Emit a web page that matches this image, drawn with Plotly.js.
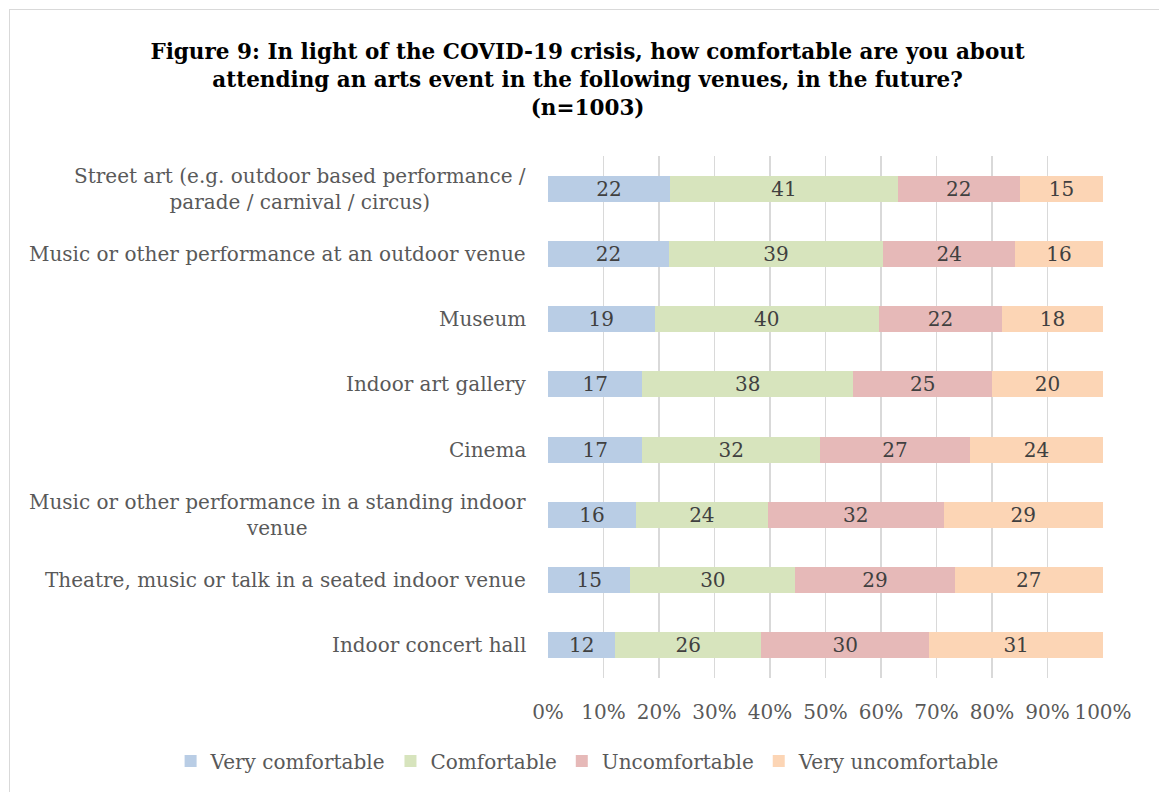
<!DOCTYPE html>
<html>
<head>
<meta charset="utf-8">
<script src="https://cdn.plot.ly/plotly-3.0.1.min.js"></script>
<style>
html,body{margin:0;padding:0;background:#fff;}
#chart{width:1159px;height:792px;}
</style>
</head>
<body>
<div id="chart"></div>
<script>
const categories = [
  "Street art (e.g. outdoor based performance /<br>parade / carnival / circus)",
  "Music or other performance at an outdoor venue",
  "Museum",
  "Indoor art gallery",
  "Cinema",
  "Music or other performance in a standing indoor<br>venue",
  "Theatre, music or talk in a seated indoor venue",
  "Indoor concert hall"
];
const veryComfortable   = [22, 22, 19, 17, 17, 16, 15, 12];
const comfortable       = [41, 39, 40, 38, 32, 24, 30, 26];
const uncomfortable     = [22, 24, 22, 25, 27, 32, 29, 30];
const veryUncomfortable = [15, 16, 18, 20, 24, 29, 27, 31];
const seriesNames = ["Very comfortable", "Comfortable", "Uncomfortable", "Very uncomfortable"];
const seriesColors = ["#b9cde5", "#d7e4bd", "#e6b9b8", "#fcd5b5"];
const tickVals = [0, 10, 20, 30, 40, 50, 60, 70, 80, 90, 100];
const tickText = ["0%", "10%", "20%", "30%", "40%", "50%", "60%", "70%", "80%", "90%", "100%"];

const FONT = "DejaVu Serif, Liberation Serif, serif";
const allSeries = [veryComfortable, comfortable, uncomfortable, veryUncomfortable];

const traces = allSeries.map((vals, i) => ({
  type: "bar",
  orientation: "h",
  name: seriesNames[i],
  y: categories,
  x: vals,
  text: vals.map(String),
  textposition: "inside",
  insidetextanchor: "middle",
  constraintext: "none",
  textfont: {family: FONT, size: 20, color: "#404040"},
  marker: {color: seriesColors[i], line: {width: 0}},
  width: 0.4,
  hoverinfo: "skip"
}));

const annotations = categories.map(c => ({
  xref: "paper", yref: "y",
  x: 0, y: c,
  xanchor: "right", yanchor: "middle",
  xshift: -20,
  text: c,
  showarrow: false,
  align: "center",
  font: {family: FONT, size: 20, color: "#595959"}
}));

const layout = {
  width: 1159, height: 792,
  paper_bgcolor: "#ffffff",
  plot_bgcolor: "#ffffff",
  barmode: "stack",
  barnorm: "percent",
  margin: {l: 548, r: 56, t: 156, b: 114, pad: 0, autoexpand: false},
  title: {
    text: "<b>Figure 9: In light of the COVID-19 crisis, how comfortable are you about<br>attending an arts event in the following venues, in the future?<br>(n=1003)</b>",
    font: {family: FONT, size: 21.5, color: "#000000"},
    x: 0.507, xanchor: "center", xref: "container",
    y: 0.926, yanchor: "top", yref: "container"
  },
  xaxis: {
    range: [0, 100],
    tickvals: tickVals,
    ticktext: tickText,
    showgrid: true,
    gridcolor: "#d9d9d9",
    gridwidth: 1.5,
    zeroline: false,
    showline: false,
    ticks: "",
    ticklabelstandoff: 20,
    tickfont: {family: FONT, size: 20, color: "#595959"},
    fixedrange: true
  },
  yaxis: {
    autorange: "reversed",
    showticklabels: false,
    showgrid: false,
    zeroline: false,
    showline: false,
    ticks: "",
    fixedrange: true
  },
  legend: {
    orientation: "h",
    xref: "paper", yref: "paper",
    x: -0.68, xanchor: "left",
    y: -0.159, yanchor: "middle",
    bgcolor: "rgba(0,0,0,0)",
    font: {family: FONT, size: 20, color: "#595959"},
    itemwidth: 30,
    traceorder: "normal"
  },
  annotations: annotations,
  hovermode: false,
  showlegend: true
};

Plotly.newPlot("chart", traces, layout, {displayModeBar: false, staticPlot: true}).then(() => {
  const svg = document.querySelector("#chart .main-svg");
  const ns = "http://www.w3.org/2000/svg";
  const r = document.createElementNS(ns, "rect");
  r.setAttribute("x", 9.5); r.setAttribute("y", 9.5);
  r.setAttribute("width", 1160); r.setAttribute("height", 790);
  r.setAttribute("fill", "none"); r.setAttribute("stroke", "#d9d9d9"); r.setAttribute("stroke-width", 1);
  svg.appendChild(r);
});
</script>
</body>
</html>
